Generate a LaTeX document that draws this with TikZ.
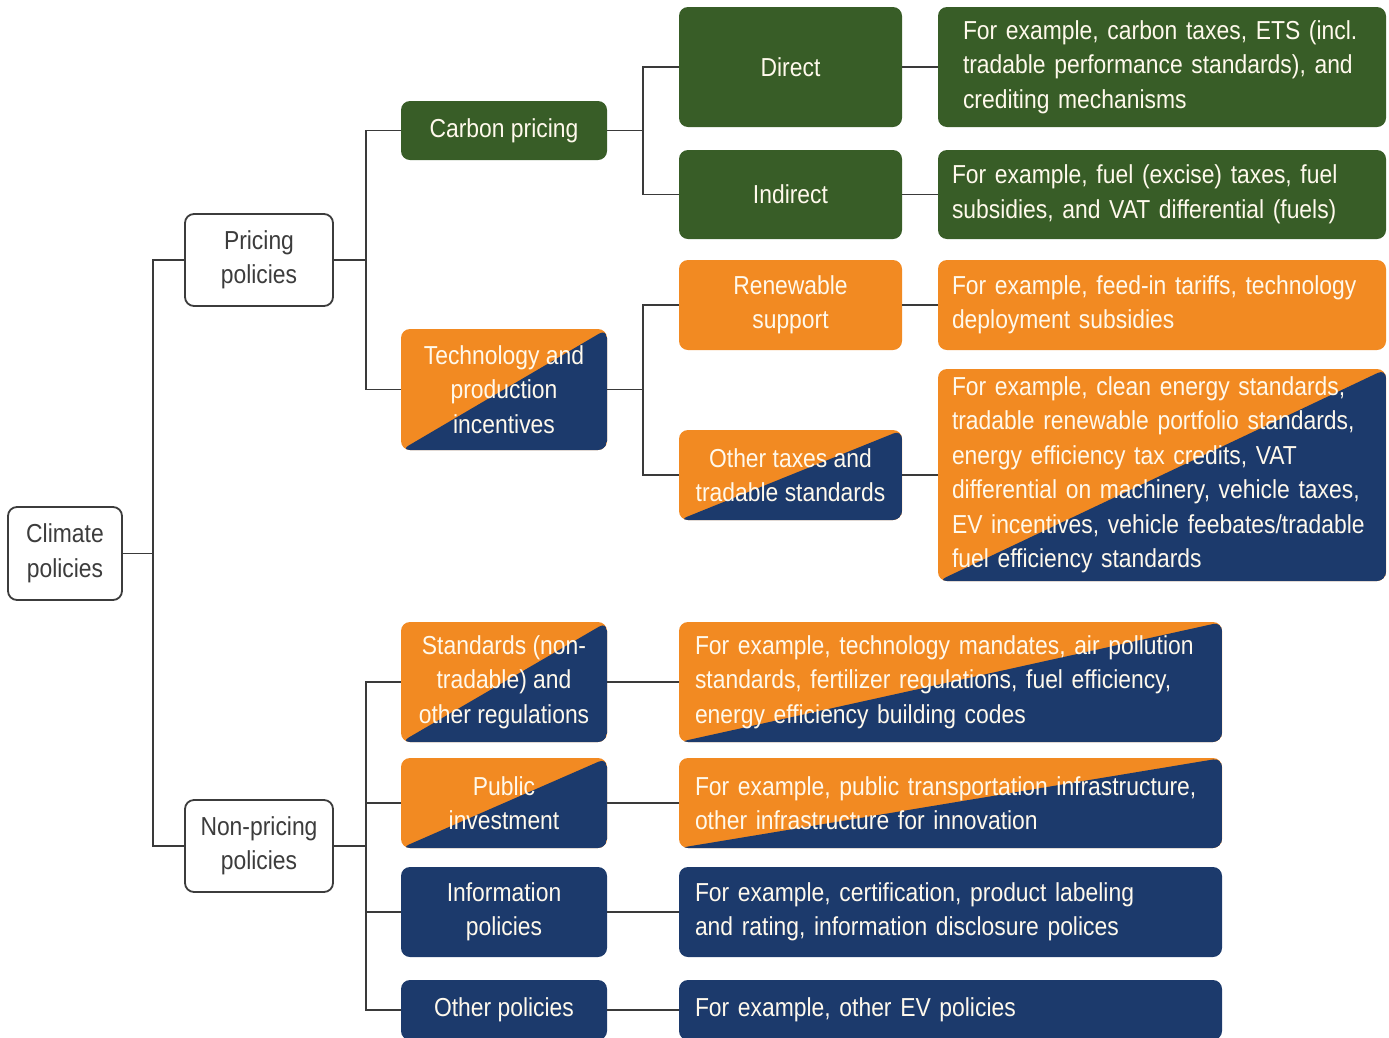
\documentclass[tikz,border=0pt]{standalone}
\usepackage{fontspec}
\setmainfont{Liberation Sans}[FakeStretch=0.88]
\definecolor{cgreen}{HTML}{385D27}
\definecolor{corange}{HTML}{F28A22}
\definecolor{cnavy}{HTML}{1C3A6C}
\definecolor{ctxt}{HTML}{FFF9EC}
\definecolor{cline}{HTML}{3A3A3A}
\definecolor{cgray}{HTML}{3C3C3C}
\begin{document}
\begin{tikzpicture}[x=1pt,y=-1pt,
  base/.style={rounded corners=9pt, inner sep=0pt, text=ctxt, align=center,
    font=\fontsize{26}{34.5}\selectfont},
  wbox/.style={base, draw=cgray, line width=1.8pt, fill=white, text=cgray},
  gbox/.style={base, fill=cgreen},
  obox/.style={base, fill=corange},
  bbox/.style={base, fill=cnavy},
  splitbox/.style={base, fill=corange,
    path picture={\fill[cnavy] (path picture bounding box.south west) -- (path picture bounding box.north east) -- (path picture bounding box.south east) -- cycle;}},
  lefttext/.style={align=left, text width=#1},
  conn/.style={draw=cline, line width=1.8pt}
]
\useasboundingbox (0,0) rectangle (1389,1037);

% level 0 and 1
\node[wbox, minimum width=114pt, minimum height=93pt] (climate) at (65,553.5) {Climate\\policies};
\node[wbox, minimum width=148pt, minimum height=92pt] (pricing) at (259,260) {Pricing\\policies};
\node[wbox, minimum width=148pt, minimum height=92pt] (nonpricing) at (259,846) {Non-pricing\\policies};

% level 2 pricing
\node[gbox, minimum width=206pt, minimum height=59pt] (carbon) at (504,130.5) {Carbon pricing};
\node[splitbox, minimum width=206pt, minimum height=121pt] (tech) at (504,389.5) {Technology and\\production\\incentives};

% level 3 pricing
\node[gbox, minimum width=223pt, minimum height=120pt] (direct) at (790.5,67) {Direct};
\node[gbox, minimum width=223pt, minimum height=89pt] (indirect) at (790.5,194.5) {Indirect};
\node[obox, minimum width=223pt, minimum height=90pt] (renew) at (790.5,305) {Renewable\\support};
\node[splitbox, minimum width=223pt, minimum height=90pt] (othertax) at (790.5,475) {Other taxes and\\tradable standards};

% examples pricing
\node[gbox, lefttext=398pt, minimum width=448pt, minimum height=120pt] (directex) at (1162,67)
  {For example, carbon taxes, ETS (incl.\\tradable performance standards), and\\crediting mechanisms};
\node[gbox, lefttext=420pt, minimum width=448pt, minimum height=89pt] (indirectex) at (1162,194.5)
  {For example, fuel (excise) taxes, fuel\\subsidies, and VAT differential (fuels)};
\node[obox, lefttext=420pt, minimum width=448pt, minimum height=90pt] (renewex) at (1162,305)
  {For example, feed-in tariffs, technology\\deployment subsidies};
\node[splitbox, lefttext=420pt, minimum width=448pt, minimum height=212pt] (othertaxex) at (1162,475)
  {For example, clean energy standards,\\tradable renewable portfolio standards,\\energy efficiency tax credits, VAT\\differential on machinery, vehicle taxes,\\EV incentives, vehicle feebates/tradable\\fuel efficiency standards};

% level 2 non-pricing
\node[splitbox, minimum width=206pt, minimum height=120pt] (std) at (504,682) {Standards (non-\\tradable) and\\other regulations};
\node[splitbox, minimum width=206pt, minimum height=90pt] (public) at (504,803) {Public\\investment};
\node[bbox, minimum width=206pt, minimum height=90pt] (info) at (504,912) {Information\\policies};
\node[bbox, minimum width=206pt, minimum height=60pt] (otherpol) at (504,1010) {Other policies};

% examples non-pricing
\node[splitbox, lefttext=511pt, minimum width=543pt, minimum height=120pt] (stdex) at (950.5,682)
  {For example, technology mandates, air pollution\\standards, fertilizer regulations, fuel efficiency,\\energy efficiency building codes};
\node[splitbox, lefttext=511pt, minimum width=543pt, minimum height=90pt] (publicex) at (950.5,803)
  {For example, public transportation infrastructure,\\other infrastructure for innovation};
\node[bbox, lefttext=511pt, minimum width=543pt, minimum height=90pt] (infoex) at (950.5,912)
  {For example, certification, product labeling\\and rating, information disclosure polices};
\node[bbox, lefttext=511pt, minimum width=543pt, minimum height=60pt] (otherex) at (950.5,1010)
  {For example, other EV policies};

% junctions
\coordinate (t1) at (153,553.5);
\coordinate (t2) at (366,260);
\coordinate (t3) at (643,130.5);
\coordinate (t4) at (643,389.5);
\coordinate (t5) at (366,846);

% connectors
\draw[conn] (climate.east) -- (t1);
\draw[conn] (t1) |- (pricing.west);
\draw[conn] (t1) |- (nonpricing.west);
\draw[conn] (pricing.east) -- (t2);
\draw[conn] (t2) |- (carbon.west);
\draw[conn] (t2) |- (tech.west);
\draw[conn] (carbon.east) -- (t3);
\draw[conn] (t3) |- (direct.west);
\draw[conn] (t3) |- (indirect.west);
\draw[conn] (tech.east) -- (t4);
\draw[conn] (t4) |- (renew.west);
\draw[conn] (t4) |- (othertax.west);
\draw[conn] (nonpricing.east) -- (t5);
\draw[conn] (t5) |- (std.west);
\draw[conn] (t5) |- (public.west);
\draw[conn] (t5) |- (info.west);
\draw[conn] (t5) |- (otherpol.west);
\draw[conn] (direct.east) -- (directex.west);
\draw[conn] (indirect.east) -- (indirectex.west);
\draw[conn] (renew.east) -- (renewex.west);
\draw[conn] (othertax.east) -- (othertaxex.west);
\draw[conn] (std.east) -- (stdex.west);
\draw[conn] (public.east) -- (publicex.west);
\draw[conn] (info.east) -- (infoex.west);
\draw[conn] (otherpol.east) -- (otherex.west);
\end{tikzpicture}
\end{document}
